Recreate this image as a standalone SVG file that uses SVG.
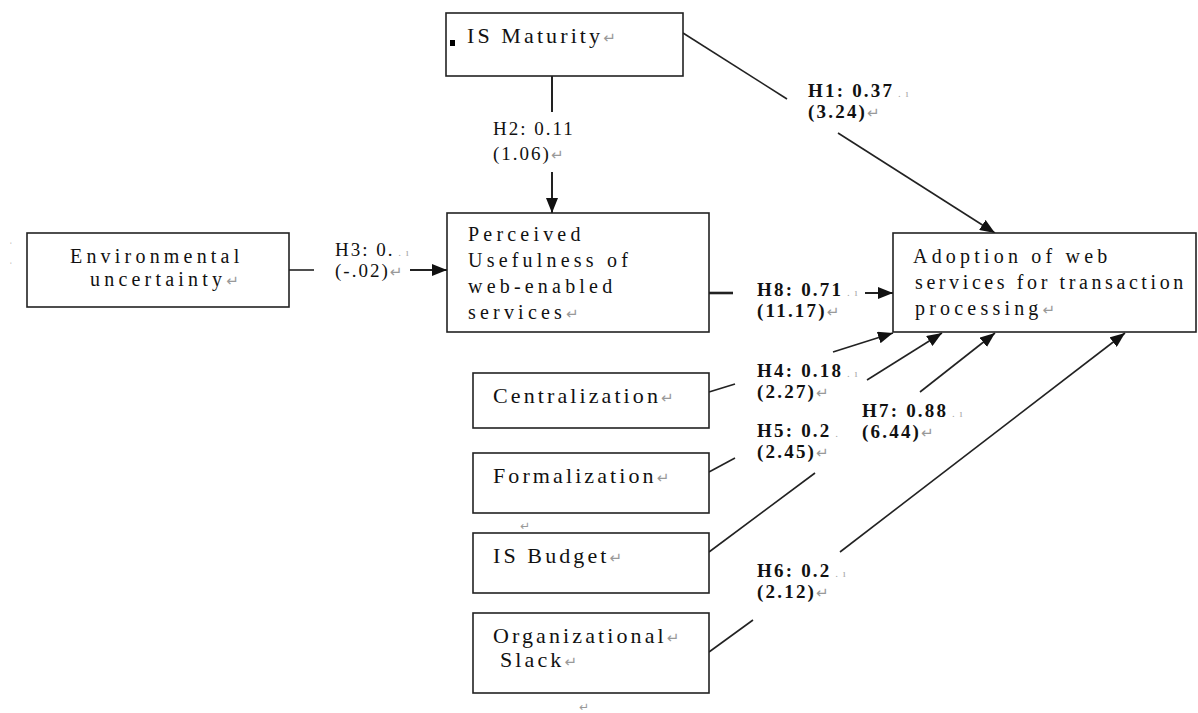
<svg xmlns="http://www.w3.org/2000/svg" width="1198" height="713" viewBox="0 0 1198 713">
<style>
.box{fill:#fff;stroke:#222;stroke-width:1.6}
.ta{font-family:"Liberation Serif","Times New Roman",serif;font-size:20px;letter-spacing:4.2px;fill:#111}
.tb{font-family:"Liberation Serif","Times New Roman",serif;font-size:22px;letter-spacing:3.1px;fill:#111}
.lr{font-family:"Liberation Serif","Times New Roman",serif;font-size:19px;letter-spacing:2px;fill:#111}
.lb{font-family:"Liberation Serif","Times New Roman",serif;font-size:19px;letter-spacing:2.2px;font-weight:bold;fill:#111}
.pm{fill:#999;font-weight:normal;letter-spacing:0;font-size:15px;font-family:"DejaVu Sans",sans-serif}
.dt{fill:#aaa;font-weight:normal;letter-spacing:1px;font-size:11px}
.ln{stroke:#222;stroke-width:1.6;fill:none}
.ar{marker-end:url(#ah)}
</style>
<defs>
<marker id="ah" markerUnits="userSpaceOnUse" markerWidth="15" markerHeight="12" refX="15" refY="6" orient="auto">
<path d="M0,0 L15,6 L0,12 z" fill="#111"/>
</marker>
</defs>
<rect width="1198" height="713" fill="#fff"/>

<g id="connectors">
<line class="ln" x1="683" y1="33" x2="787" y2="99"/>
<line class="ln ar" x1="838" y1="133" x2="995" y2="233"/>
<line class="ln" x1="552" y1="76" x2="552" y2="112" style="stroke-width:2"/>
<line class="ln ar" x1="552" y1="172" x2="552" y2="213" style="stroke-width:2"/>
<line class="ln" x1="289" y1="270" x2="314" y2="270"/>
<line class="ln ar" x1="410" y1="270" x2="447" y2="270" style="stroke-width:2"/>
<line class="ln" x1="709" y1="293" x2="733" y2="293" style="stroke-width:2.6"/>
<line class="ln ar" x1="865" y1="293" x2="893" y2="293" style="stroke-width:2"/>
<line class="ln" x1="709" y1="392" x2="735" y2="384"/>
<line class="ln ar" x1="833" y1="352" x2="893" y2="333"/>
<line class="ln" x1="709" y1="472" x2="735" y2="458"/>
<line class="ln ar" x1="867" y1="380" x2="942" y2="333"/>
<line class="ln" x1="709" y1="552" x2="815" y2="473"/>
<line class="ln ar" x1="920" y1="392" x2="995" y2="333"/>
<line class="ln" x1="709" y1="652" x2="753" y2="620"/>
<line class="ln ar" x1="840" y1="552" x2="1125" y2="333"/>
</g>

<g id="labels">
<text class="lb" x="808" y="97">H1: 0.37<tspan class="dt"> . ı</tspan></text>
<text class="lb" x="808" y="118">(3.24)<tspan class="pm">↵</tspan></text>
<text class="lr" x="493" y="135">H2: 0.11</text>
<text class="lr" x="493" y="160">(1.06)<tspan class="pm">↵</tspan></text>
<text class="lr" x="335" y="256">H3: 0.<tspan class="dt"> . ı</tspan></text>
<text class="lr" x="335" y="277">(-.02)<tspan class="pm">↵</tspan></text>
<text class="lb" x="757" y="296">H8: 0.71<tspan class="dt"> . ı</tspan></text>
<text class="lb" x="757" y="317">(11.17)<tspan class="pm">↵</tspan></text>
<text class="lb" x="757" y="377">H4: 0.18<tspan class="dt"> . ı</tspan></text>
<text class="lb" x="757" y="398">(2.27)<tspan class="pm">↵</tspan></text>
<text class="lb" x="862" y="417">H7: 0.88<tspan class="dt"> . ı</tspan></text>
<text class="lb" x="862" y="438">(6.44)<tspan class="pm">↵</tspan></text>
<text class="lb" x="757" y="437">H5: 0.2<tspan class="dt"> .</tspan></text>
<text class="lb" x="757" y="458">(2.45)<tspan class="pm">↵</tspan></text>
<text class="lb" x="757" y="577">H6: 0.2<tspan class="dt"> . ı</tspan></text>
<text class="lb" x="757" y="598">(2.12)<tspan class="pm">↵</tspan></text>
</g>

<g id="is-maturity">
<rect class="box" x="446" y="13" width="237" height="63"/>
<rect x="450" y="40" width="5" height="6" fill="#000"/>
<text class="tb" x="467" y="43">IS Maturity<tspan class="pm">↵</tspan></text>
</g>

<g id="perceived-usefulness">
<rect class="box" x="447" y="213" width="262" height="119"/>
<text class="ta" x="468" y="241">Perceived</text>
<text class="ta" x="468" y="267">Usefulness of</text>
<text class="ta" x="468" y="293">web-enabled</text>
<text class="ta" x="468" y="319">services<tspan class="pm">↵</tspan></text>
</g>

<g id="environmental-uncertainty">
<rect class="box" x="27" y="233" width="262" height="74"/>
<text class="ta" x="70" y="263">Environmental</text>
<text class="ta" x="90" y="286">uncertainty<tspan class="pm">↵</tspan></text>
<text class="dt" x="9" y="242">ˌ</text>
<text class="dt" x="9" y="262">ˌ</text>
</g>

<g id="adoption">
<rect class="box" x="893" y="233" width="303" height="99"/>
<text class="ta" x="913" y="263">Adoption of web</text>
<text class="ta" x="915" y="289" style="letter-spacing:3.6px">services for transaction</text>
<text class="ta" x="915" y="315">processing<tspan class="pm">↵</tspan></text>
</g>

<g id="centralization">
<rect class="box" x="473" y="373" width="236" height="55"/>
<text class="tb" x="493" y="403">Centralization<tspan class="pm">↵</tspan></text>
</g>

<g id="formalization">
<rect class="box" x="473" y="453" width="236" height="60"/>
<text class="tb" x="493" y="483">Formalization<tspan class="pm">↵</tspan></text>
</g>

<text class="pm" x="520" y="530" style="font-size:12px">↵</text>

<g id="is-budget">
<rect class="box" x="473" y="533" width="236" height="60"/>
<text class="tb" x="493" y="563">IS Budget<tspan class="pm">↵</tspan></text>
</g>

<g id="organizational-slack">
<rect class="box" x="473" y="613" width="236" height="80"/>
<text class="tb" x="493" y="643">Organizational<tspan class="pm">↵</tspan></text>
<text class="tb" x="500" y="667">Slack<tspan class="pm">↵</tspan></text>
</g>

<text class="pm" x="579" y="711" style="font-size:12px">↵</text>
</svg>
